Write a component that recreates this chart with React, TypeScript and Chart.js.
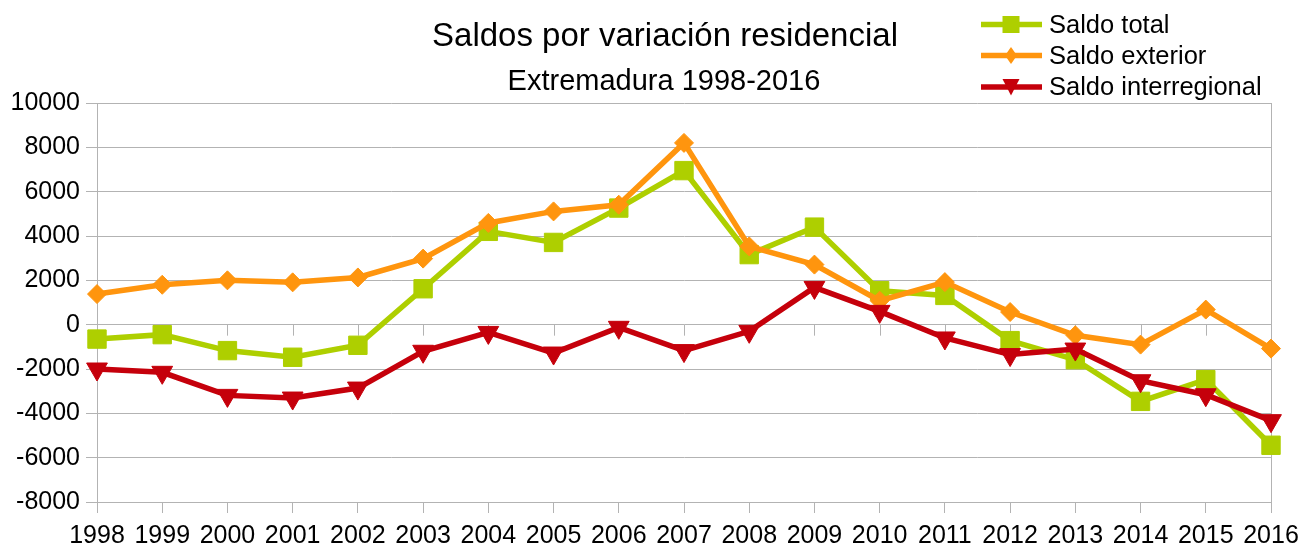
import { useEffect, useRef } from 'react';
import { Chart, registerables } from 'chart.js';

Chart.register(...registerables);

const TITLE = 'Saldos por variación residencial';
const SUBTITLE = 'Extremadura 1998-2016';

const years = ['1998', '1999', '2000', '2001', '2002', '2003', '2004', '2005', '2006', '2007', '2008', '2009', '2010', '2011', '2012', '2013', '2014', '2015', '2016'];

const saldoTotal = [-650, -450, -1170, -1470, -930, 1620, 4210, 3710, 5260, 6950, 3160, 4400, 1530, 1320, -720, -1580, -3460, -2480, -5440];
const saldoExterior = [1380, 1800, 2000, 1910, 2130, 2980, 4590, 5110, 5410, 8200, 3530, 2710, 1080, 1920, 570, -480, -900, 680, -1080];
const saldoInterregional = [-2000, -2150, -3190, -3310, -2860, -1200, -350, -1280, -120, -1170, -300, 1680, 600, -600, -1350, -1100, -2530, -3160, -4330];

const seriesLabels = ['Saldo total', 'Saldo exterior', 'Saldo interregional'];
const seriesColors = ['#aecf00', '#ff950e', '#c5000b'];

const yMin = -8000;
const yMax = 10000;
const yStep = 2000;

const FONT = '"Liberation Sans", Arial, sans-serif';
const GRID = '#b3b3b3';

const decorPlugin = {
  id: 'decor',
  beforeDatasetsDraw(chart: any) {
    const ctx = chart.ctx;
    const xs = chart.scales.x;
    const ys = chart.scales.y;
    const y0 = ys.getPixelForValue(0);
    ctx.save();
    ctx.strokeStyle = GRID;
    ctx.lineWidth = 1;
    for (let i = 0; i < years.length; i++) {
      const px = Math.round(xs.getPixelForValue(i)) + 0.5;
      ctx.beginPath();
      ctx.moveTo(px, y0);
      ctx.lineTo(px, y0 + 11);
      ctx.stroke();
    }
    ctx.restore();
  },
  afterDraw(chart: any) {
    const ctx = chart.ctx;
    ctx.save();
    ctx.fillStyle = '#000';
    ctx.textAlign = 'center';
    ctx.textBaseline = 'alphabetic';
    ctx.font = `33px ${FONT}`;
    ctx.fillText(TITLE, 665, 46);
    ctx.font = `29px ${FONT}`;
    ctx.fillText(SUBTITLE, 664, 90);

    // legend
    const rowY = [24.5, 55.5, 87];
    chart.data.datasets.forEach((ds: any, i: number) => {
      const y = rowY[i];
      const c = seriesColors[i];
      ctx.strokeStyle = c;
      ctx.fillStyle = c;
      ctx.lineWidth = 5.5;
      ctx.beginPath();
      ctx.moveTo(981, y);
      ctx.lineTo(1042, y);
      ctx.stroke();
      const cx = 1011;
      ctx.beginPath();
      if (i === 0) {
        ctx.rect(cx - 8.5, y - 8.5, 17, 17);
      } else if (i === 1) {
        ctx.moveTo(cx, y - 8.5);
        ctx.lineTo(cx + 6, y);
        ctx.lineTo(cx, y + 8.5);
        ctx.lineTo(cx - 6, y);
        ctx.closePath();
      } else {
        ctx.moveTo(cx - 8.5, y - 8);
        ctx.lineTo(cx + 8.5, y - 8);
        ctx.lineTo(cx, y + 8.5);
        ctx.closePath();
      }
      ctx.fill();
      ctx.fillStyle = '#000';
      ctx.font = `25.5px ${FONT}`;
      ctx.textAlign = 'left';
      ctx.textBaseline = 'middle';
      ctx.fillText(ds.label, 1049, y + 1);
    });
    ctx.restore();
  },
};

export default function App() {
  const ref = useRef<HTMLCanvasElement>(null);

  useEffect(() => {
    if (!ref.current) return;
    const chart = new Chart(ref.current, {
      type: 'line',
      data: {
        labels: years,
        datasets: [
          {
            label: seriesLabels[0],
            data: saldoTotal,
            borderColor: seriesColors[0],
            backgroundColor: seriesColors[0],
            borderWidth: 5.5,
            pointStyle: 'rect',
            pointRadius: 13,
            pointBorderWidth: 1,
            pointBorderColor: seriesColors[0],
            pointBackgroundColor: seriesColors[0],
            tension: 0,
            order: 3,
          },
          {
            label: seriesLabels[1],
            data: saldoExterior,
            borderColor: seriesColors[1],
            backgroundColor: seriesColors[1],
            borderWidth: 5.5,
            pointStyle: 'rectRot',
            pointRadius: 9.5,
            pointBorderWidth: 1,
            pointBorderColor: seriesColors[1],
            pointBackgroundColor: seriesColors[1],
            tension: 0,
            order: 2,
          },
          {
            label: seriesLabels[2],
            data: saldoInterregional,
            borderColor: seriesColors[2],
            backgroundColor: seriesColors[2],
            borderWidth: 5.5,
            pointStyle: 'triangle',
            pointRotation: 180,
            pointRadius: 12,
            pointBorderWidth: 1,
            pointBorderColor: seriesColors[2],
            pointBackgroundColor: seriesColors[2],
            tension: 0,
            order: 1,
          },
        ],
      },
      options: {
        responsive: false,
        animation: false,
        events: [],
        layout: { padding: { top: 103, right: 29, left: 0, bottom: 0 } },
        plugins: {
          legend: { display: false },
          title: { display: false },
          tooltip: { enabled: false },
        },
        scales: {
          x: {
            type: 'category',
            offset: false,
            grid: {
              drawOnChartArea: true,
              color: (c: any) => (c.index === years.length - 1 ? GRID : 'rgba(0,0,0,0)'),
              tickColor: GRID,
              tickLength: 11,
              lineWidth: 1,
            },
            border: { display: true, color: GRID, width: 1 },
            ticks: {
              color: '#000',
              font: { family: FONT, size: 25 },
              padding: 8,
              maxRotation: 0,
              autoSkip: false,
            },
            afterFit: (s: any) => {
              s.height = 45;
              s.paddingLeft = 0;
              s.paddingRight = 0;
            },
          },
          y: {
            min: yMin,
            max: yMax,
            grid: { color: GRID, tickLength: 11, lineWidth: 1 },
            border: { display: true, color: GRID, width: 1 },
            ticks: {
              stepSize: yStep,
              color: '#000',
              font: { family: FONT, size: 25 },
              padding: 6,
              callback: (v: any) => String(v),
            },
            afterFit: (s: any) => {
              s.width = 97;
              s.paddingTop = 0;
              s.paddingBottom = 0;
            },
          },
        },
      },
      plugins: [decorPlugin],
    });
    return () => chart.destroy();
  }, []);

  return (
    <div style={{ position: 'absolute', left: 0, top: 0, width: 1300, height: 547, background: '#fff' }}>
      <canvas ref={ref} width={1300} height={547} style={{ width: 1300, height: 547, display: 'block' }} />
    </div>
  );
}
